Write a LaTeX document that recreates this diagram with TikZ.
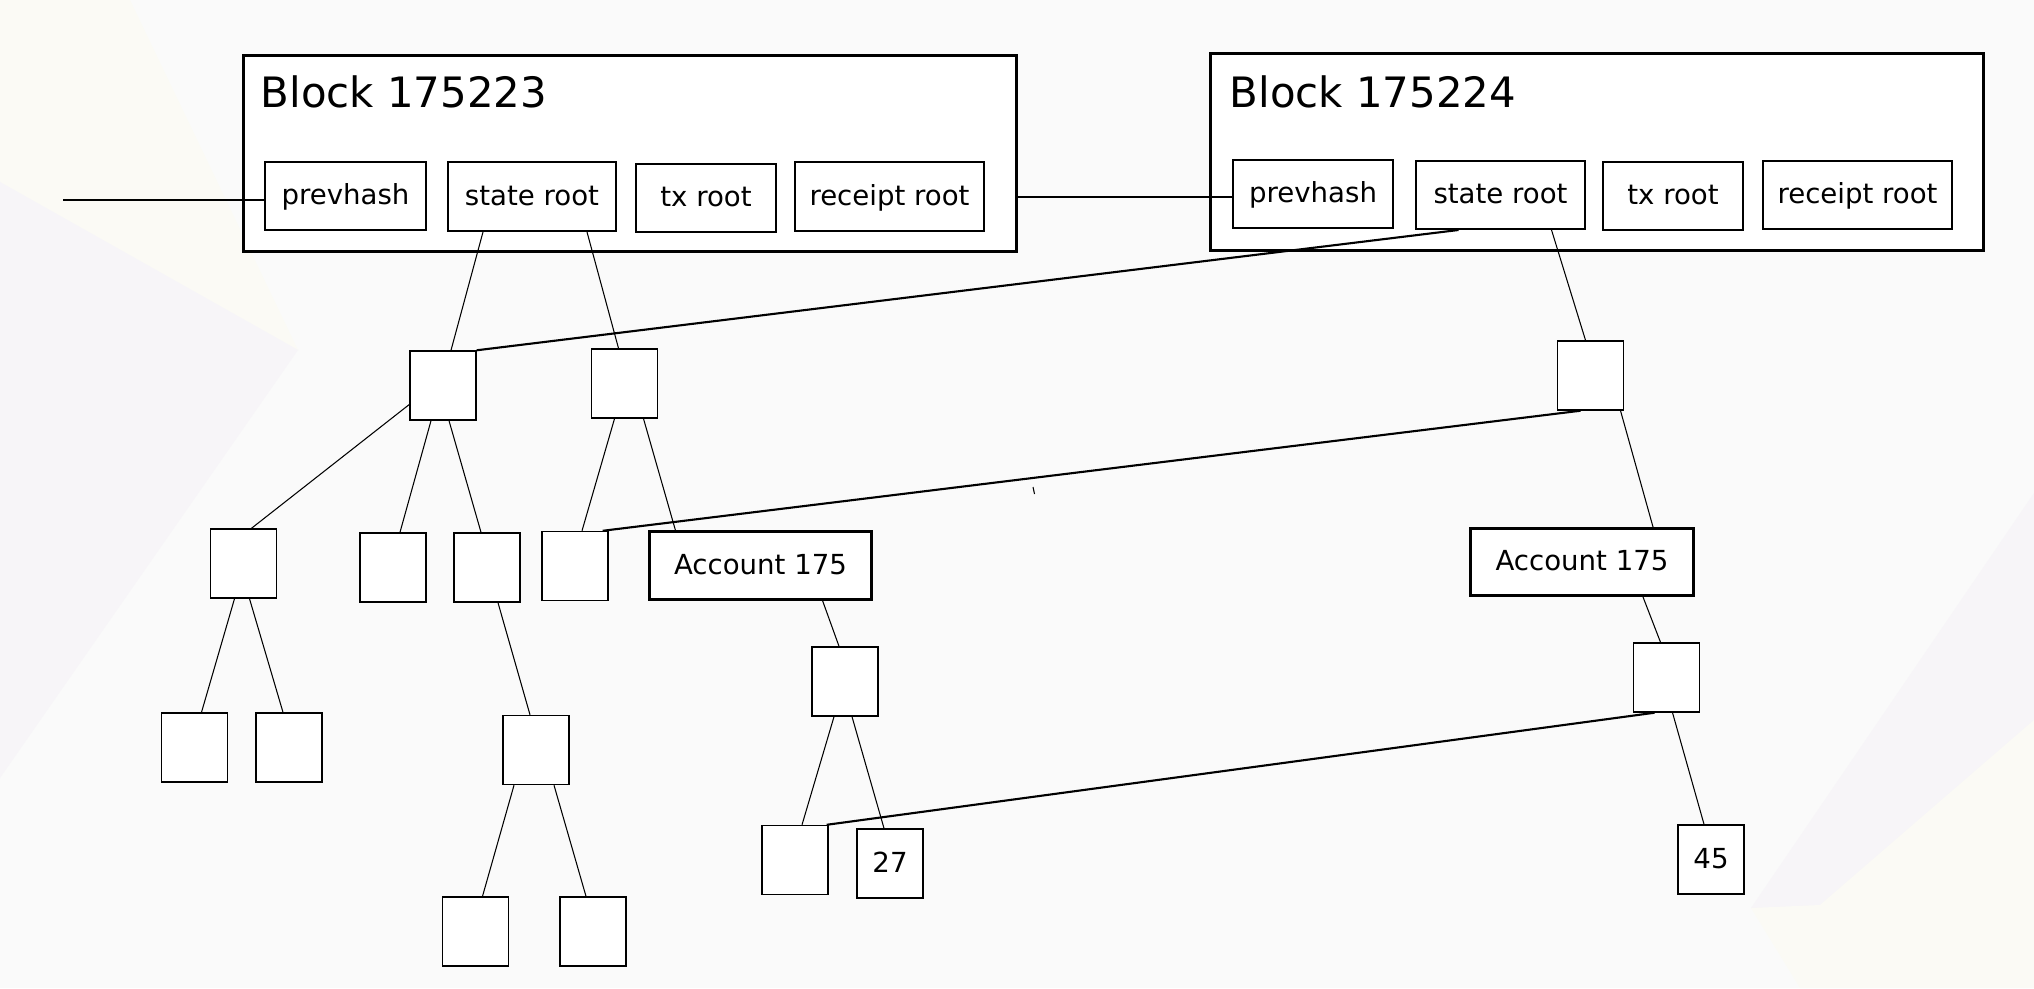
\documentclass[tikz,border=0pt]{standalone}
\usepackage{fontspec}
\setmainfont{DejaVu Sans}
\usetikzlibrary{calc}
\definecolor{bg}{HTML}{FAFAFA}
\definecolor{cream}{HTML}{FBFAF5}
\definecolor{lav}{HTML}{F7F5F8}
\begin{document}
\begin{tikzpicture}[x=0.01cm,y=-0.01cm,
  field/.style={draw, fill=white, line width=0.55pt, inner sep=0pt,
    font=\fontsize{7.85}{9}\selectfont, text height=0.75em, text depth=0.25em},
  blockbox/.style={draw, fill=white, line width=0.85pt, inner sep=0pt},
  leaf/.style={draw, fill=white, line width=0.4pt, inner sep=0pt,
    minimum width=0.66cm, minimum height=0.69cm,
    font=\fontsize{7.85}{9}\selectfont, text height=0.75em, text depth=0.25em},
  accbox/.style={draw, fill=white, line width=0.85pt, inner sep=0pt,
    minimum width=2.22cm, minimum height=0.67cm,
    font=\fontsize{7.85}{9}\selectfont, text height=0.75em, text depth=0.25em},
  title/.style={anchor=base west, inner sep=0pt, font=\fontsize{11.9}{14}\selectfont},
  edge/.style={line width=0.3pt},
  link/.style={line width=0.6pt}]
% background
\fill[bg] (0,0) rectangle (2034,988);
\useasboundingbox (0,0) rectangle (2034,988);
\fill[cream] (0,0) -- (130,0) -- (298,350) -- (0,182) -- cycle;
\fill[lav] (0,182) -- (298,350) -- (0,778) -- cycle;
\fill[lav] (2034,493) -- (1751,908) -- (2034,988) -- cycle;
\fill[cream] (2034,720) -- (1820,905) -- (1751,908) -- (1800,988) -- (2034,988) -- cycle;

% blocks
\node[blockbox, minimum width=7.72cm, minimum height=1.95cm] (b1) at (630,153.5) {};
\node[title] (b1t) at (260,108) {Block 175223};
\node[field, minimum width=1.61cm, minimum height=0.68cm] (p1) at (345.5,196) {prevhash};
\node[field, minimum width=1.68cm, minimum height=0.69cm] (s1) at (532,196.5) {state root};
\node[field, minimum width=1.40cm, minimum height=0.68cm] (t1) at (706,198) {tx root};
\node[field, minimum width=1.89cm, minimum height=0.69cm] (r1) at (889.5,196.5) {receipt root};

\node[blockbox, minimum width=7.72cm, minimum height=1.96cm] (b2) at (1597,152) {};
\node[title] (b2t) at (1229,107) {Block 175224};
\node[field, minimum width=1.60cm, minimum height=0.68cm] (p2) at (1313,194) {prevhash};
\node[field, minimum width=1.69cm, minimum height=0.68cm] (s2) at (1500.5,195) {state root};
\node[field, minimum width=1.40cm, minimum height=0.68cm] (t2) at (1673,196) {tx root};
\node[field, minimum width=1.89cm, minimum height=0.68cm] (r2) at (1857.5,195) {receipt root};

% left tree
\node[leaf] (n1) at (443,385.5) {};
\node[leaf] (n2) at (624.5,383.5) {};
\node[leaf] (m1) at (243.5,563.5) {};
\node[leaf] (m2) at (393,567.5) {};
\node[leaf] (m3) at (487,567.5) {};
\node[leaf] (m4) at (575,566) {};
\node[accbox] (a1) at (760.5,565.5) {Account 175};
\node[leaf] (q1) at (194.5,747.5) {};
\node[leaf] (q2) at (289,747.5) {};
\node[leaf] (q3) at (536,750) {};
\node[leaf] (w1) at (475.5,931.5) {};
\node[leaf] (w2) at (593,931.5) {};
\node[leaf] (a2) at (845,681.5) {};
\node[leaf] (a3) at (795,860) {};
\node[leaf] (v27) at (890,863.5) {27};

% right tree
\node[leaf] (rr1) at (1590.5,375.5) {};
\node[accbox] (acc2) at (1582,562) {Account 175};
\node[leaf] (rr3) at (1666.5,677.5) {};
\node[leaf] (v45) at (1711,859.5) {45};

% chain links
\coordinate (in) at (63,200);
\draw[line width=0.75pt] (in) -- ($(p1.west)+(0,4)$);
\draw[link] ($(b1.east |- p2.west)+(0,3)$) -- ($(p2.west)+(0,3)$);

% tree edges
\draw[edge] ($(s1.south)+(-49,0)$) -- ($(n1.north)+(8,0)$);
\draw[edge] ($(s1.south)+(55,0)$) -- ($(n2.north)+(-6,0)$);
\draw[link] ($(s2.south)+(-42,0)$) -- (n1.north east);
\draw[edge] ($(s2.south)+(51,0)$) -- ($(rr1.north)+(-5,0)$);
\draw[edge] ($(n1.west)+(0,19)$) -- ($(m1.north)+(8,0)$);
\draw[edge] ($(n1.south)+(-12,0)$) -- ($(m2.north)+(7,0)$);
\draw[edge] ($(n1.south)+(6,0)$) -- ($(m3.north)+(-6,0)$);
\draw[edge] ($(n2.south)+(-10,0)$) -- ($(m4.north)+(7,0)$);
\draw[edge] ($(n2.south)+(19,0)$) -- ($(a1.north)+(-85,0)$);
\draw[link] ($(rr1.south)+(-10,0)$) -- ($(m4.north east)+(-6,0)$);
\draw[edge] ($(rr1.south)+(30,0)$) -- ($(acc2.north)+(71,0)$);
\draw[edge] ($(acc2.south)+(61,0)$) -- ($(rr3.north)+(-6,0)$);
\draw[edge] ($(rr3.south)+(6,0)$) -- ($(v45.north)+(-7,0)$);
\draw[link] ($(rr3.south)+(-12,0)$) -- ($(a3.north east)+(-2,0)$);
\draw[edge] ($(a1.south)+(62,0)$) -- ($(a2.north)+(-6,0)$);
\draw[edge] ($(a2.south)+(-11,0)$) -- ($(a3.north)+(7,0)$);
\draw[edge] ($(a2.south)+(7,0)$) -- ($(v27.north)+(-6,0)$);
\draw[edge] ($(m1.south)+(-9,0)$) -- ($(q1.north)+(7,0)$);
\draw[edge] ($(m1.south)+(6,0)$) -- ($(q2.north)+(-6,0)$);
\draw[edge] ($(m3.south)+(11,0)$) -- ($(q3.north)+(-6,0)$);
\draw[edge] ($(q3.south)+(-22,0)$) -- ($(w1.north)+(7,0)$);
\draw[edge] ($(q3.south)+(18,0)$) -- ($(w2.north)+(-7,0)$);

% stray tick
\draw[edge] (1033,487) -- (1034.5,494);
\end{tikzpicture}
\end{document}
